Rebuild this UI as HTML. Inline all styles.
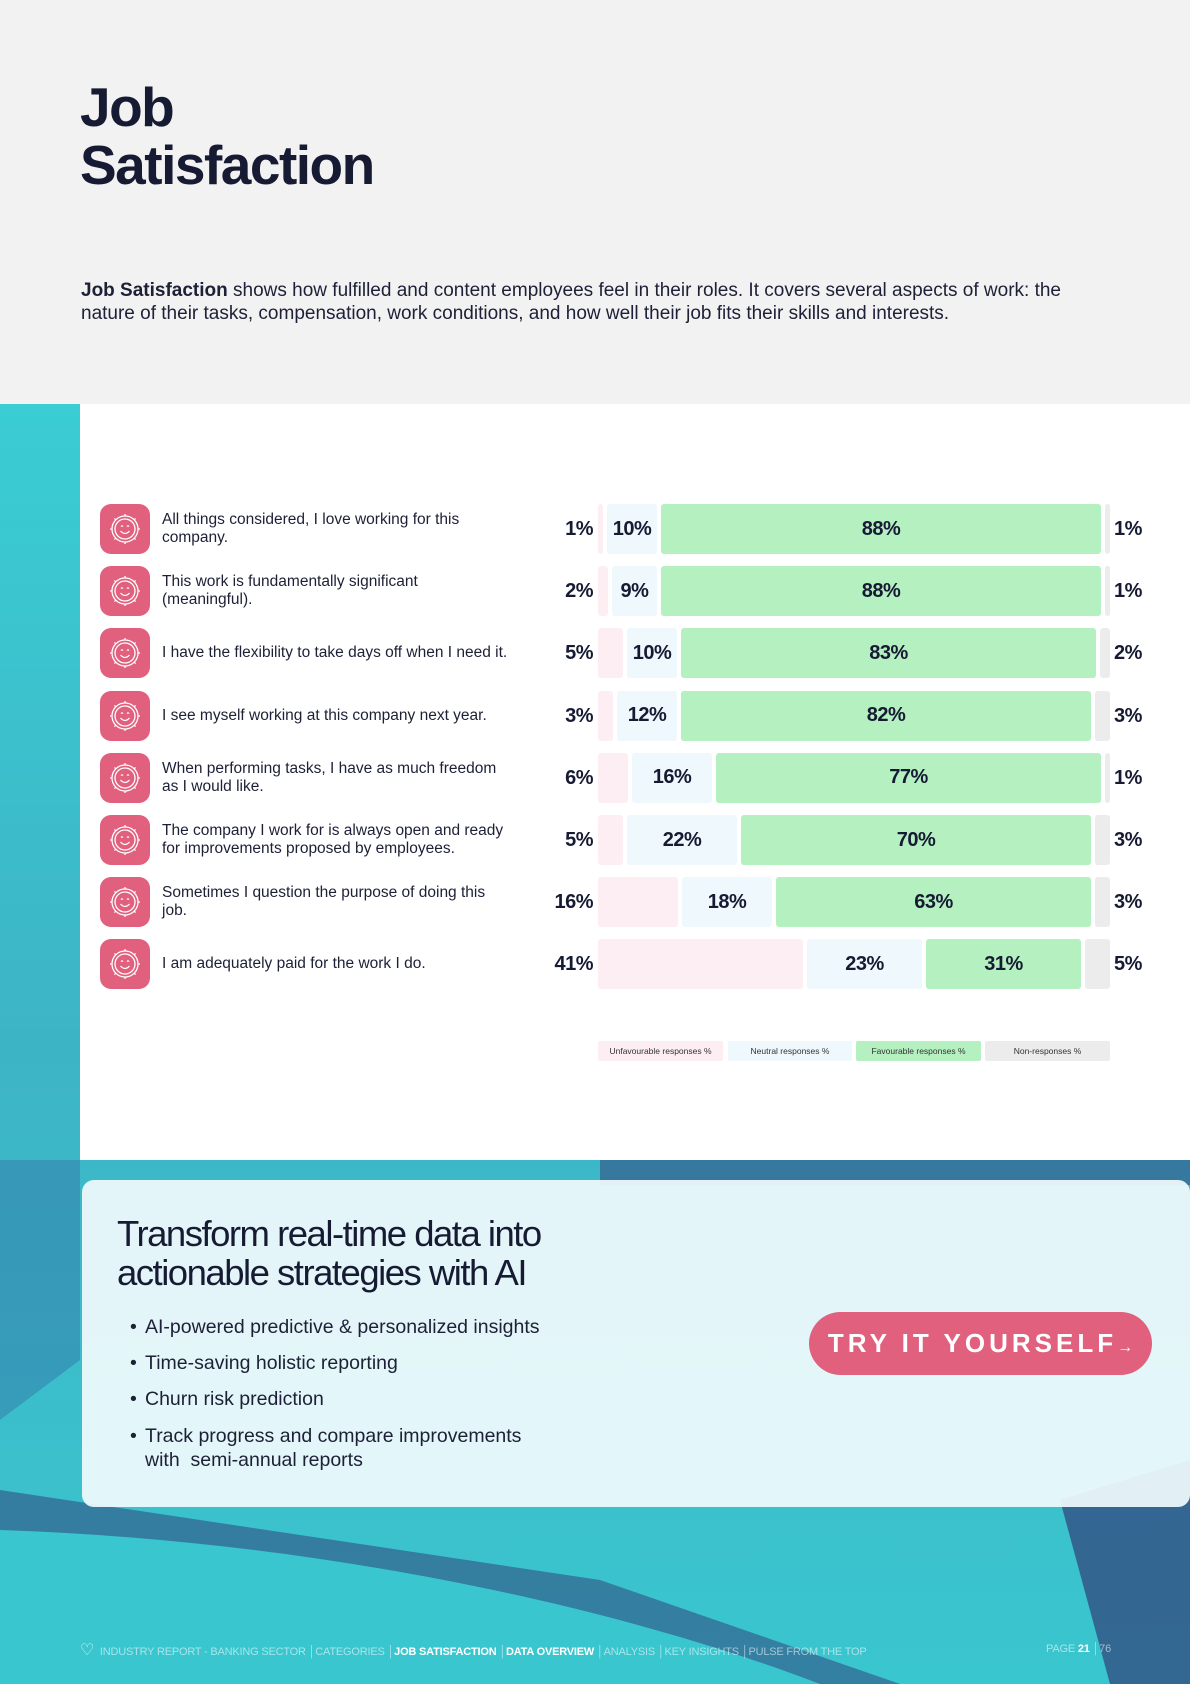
<!DOCTYPE html>
<html><head><meta charset="utf-8"><style>
*{margin:0;padding:0;box-sizing:border-box}
body{width:1190px;height:1684px;position:relative;overflow:hidden;font-family:"Liberation Sans",sans-serif;color:#161a33;background:#f2f2f2}
.abs{position:absolute}
.top{left:0;top:0;width:1190px;height:404px;background:#f2f2f2}
h1{position:absolute;left:80px;top:78px;font-size:55px;line-height:58px;font-weight:bold;letter-spacing:-1.5px;color:#161a33}
.para{left:81px;top:279px;font-size:19px;line-height:23px;letter-spacing:0px;color:#1d2036;white-space:nowrap}
.bg{left:0;top:404px;width:1190px;height:1280px;background:linear-gradient(180deg,#3acdd3 0%,#3db4c6 50%,#3ac6cf 100%)}
.panel{left:80px;top:404px;width:1110px;height:756px;background:#fff}
.icon{position:absolute;left:100px;width:50px;height:50px;border-radius:11px;background:#e0607e}
.lbl{position:absolute;left:162px;width:380px;font-size:15.5px;line-height:18px;color:#1d2036;display:flex;align-items:center;height:50px;white-space:nowrap}
.seg{position:absolute;height:50px;border-radius:3px;display:flex;align-items:center;justify-content:center;font-weight:bold;font-size:20px;color:#161a33;letter-spacing:-0.5px}
.u{background:#fdeef3}.n{background:#eef8fd}.f{background:#b4f0c0}.x{background:#ececec}
.pl{position:absolute;width:60px;text-align:right;left:533px;font-weight:bold;font-size:20px;height:50px;line-height:50px;letter-spacing:-0.5px}
.pr{position:absolute;left:1114px;font-weight:bold;font-size:20px;height:50px;line-height:50px;letter-spacing:-0.5px}
.leg{position:absolute;top:1041px;height:20px;font-size:8.5px;line-height:20px;text-align:center;color:#333;border-radius:2px}
.card{left:82px;top:1180px;width:1108px;height:327px;border-radius:12px;background:rgba(240,250,252,0.93)}
.ch{left:117px;top:1214px;font-size:36.5px;line-height:39px;font-weight:300;letter-spacing:-1.5px;color:#161a33}
.bl{left:130px;font-size:19.5px;color:#1d2036}
.bl span{display:inline-block;width:15px}
.btn{left:809px;top:1312px;width:343px;height:63px;border-radius:32px;background:#e0607e;color:#fff;font-weight:bold;font-size:26px;letter-spacing:4px;line-height:63px;text-align:center}
.ft{top:1640px;font-size:11px;color:rgba(255,255,255,0.55);letter-spacing:-0.2px}
.ft b{color:#fff}
</style></head><body>
<div class="abs top"></div>
<h1>Job<br>Satisfaction</h1>
<div class="abs para"><b>Job Satisfaction</b> shows how fulfilled and content employees feel in their roles. It covers several aspects of work: the<br>nature of their tasks, compensation, work conditions, and how well their job fits their skills and interests.</div>
<div class="abs bg"></div>
<svg class="abs" style="left:0;top:1160px" width="1190" height="524" viewBox="0 0 1190 524">
<path d="M0 330 L600 420 L900 524 L0 524Z" fill="#2f2a6b" opacity="0.45"/>
<path d="M0 370 C300 380 600 440 820 524 L0 524Z" fill="#3ac6cf"/>
<path d="M1060 340 L1190 300 L1190 524 L1110 524Z" fill="#2f2a6b" opacity="0.6"/>
<path d="M0 0 L80 0 L80 200 L0 260Z" fill="#2f6aa0" opacity="0.4"/>
<path d="M600 0 L1190 0 L1190 25 L600 25Z" fill="#2f2a6b" opacity="0.45"/>
</svg>
<div class="abs panel"></div>
<div id="rows"></div>
<div class="leg u" style="left:598px;width:125px">Unfavourable responses %</div>
<div class="leg n" style="left:728px;width:124px">Neutral responses %</div>
<div class="leg f" style="left:856px;width:125px">Favourable responses %</div>
<div class="leg x" style="left:985px;width:125px">Non-responses %</div>
<div class="abs card"></div>
<div class="abs ch">Transform real-time data into<br>actionable strategies with AI</div>
<div class="abs bl" style="top:1316px"><span>•</span>AI-powered predictive &amp; personalized insights</div>
<div class="abs bl" style="top:1352px"><span>•</span>Time-saving holistic reporting</div>
<div class="abs bl" style="top:1388px"><span>•</span>Churn risk prediction</div>
<div class="abs bl" style="top:1424px;line-height:24px"><span>•</span>Track progress and compare improvements<br><span></span>with&nbsp; semi-annual reports</div>
<div class="abs btn">TRY IT YOURSELF<span style="font-size:16px;letter-spacing:0">→</span></div>
<div class="abs ft" style="left:80px"><span style="font-size:16px;color:#fff;opacity:.8">♡</span> &nbsp;INDUSTRY REPORT - BANKING SECTOR │CATEGORIES │<b>JOB SATISFACTION</b> │<b>DATA OVERVIEW</b> │ANALYSIS │KEY INSIGHTS │PULSE FROM THE TOP</div>
<div class="abs ft" style="left:1046px;top:1643px">PAGE <b>21</b> │76</div>
<script>
var d=[["All things considered, I love working for this<br>company.",1,10,88,1],
["This work is fundamentally significant<br>(meaningful).",2,9,88,1],
["I have the flexibility to take days off when I need it.",5,10,83,2],
["I see myself working at this company next year.",3,12,82,3],
["When performing tasks, I have as much freedom<br>as I would like.",6,16,77,1],
["The company I work for is always open and ready<br>for improvements proposed by employees.",5,22,70,3],
["Sometimes I question the purpose of doing this<br>job.",16,18,63,3],
["I am adequately paid for the work I do.",41,23,31,5]];
var h="";
d.forEach(function(r,i){var y=504+i*62.2;
h+='<div class="icon" style="top:'+y+'px"><svg width="50" height="50" viewBox="0 0 50 50" fill="none" stroke="#fff" stroke-width="1.3"><circle cx="25" cy="25" r="13"/><circle cx="25" cy="25" r="10"/><path d="M21 22.5q1-1.3 2 0M27 22.5q1-1.3 2 0M20.5 27q4.5 5 9 0"/><path d="M25 10v2M25 38v2M10 25h2M38 25h2M14.4 14.4l1.4 1.4M34.2 34.2l1.4 1.4M14.4 35.6l1.4-1.4M34.2 15.8l1.4-1.4"/></svg></div>';
h+='<div class="lbl" style="top:'+y+'px"><span>'+r[0]+'</span></div>';
h+='<div class="pl" style="top:'+y+'px">'+r[1]+'%</div>';
var x=598,w;
w=r[1]*5;h+='<div class="seg u" style="top:'+y+'px;left:'+x+'px;width:'+w+'px"></div>';x+=w+4;
w=r[2]*5;h+='<div class="seg n" style="top:'+y+'px;left:'+x+'px;width:'+w+'px">'+r[2]+'%</div>';x+=w+4;
w=r[3]*5;h+='<div class="seg f" style="top:'+y+'px;left:'+x+'px;width:'+w+'px">'+r[3]+'%</div>';x+=w+4;
w=r[4]*5;h+='<div class="seg x" style="top:'+y+'px;left:'+x+'px;width:'+w+'px"></div>';
h+='<div class="pr" style="top:'+y+'px">'+r[4]+'%</div>';});
document.getElementById("rows").innerHTML=h;
</script>
</body></html>
